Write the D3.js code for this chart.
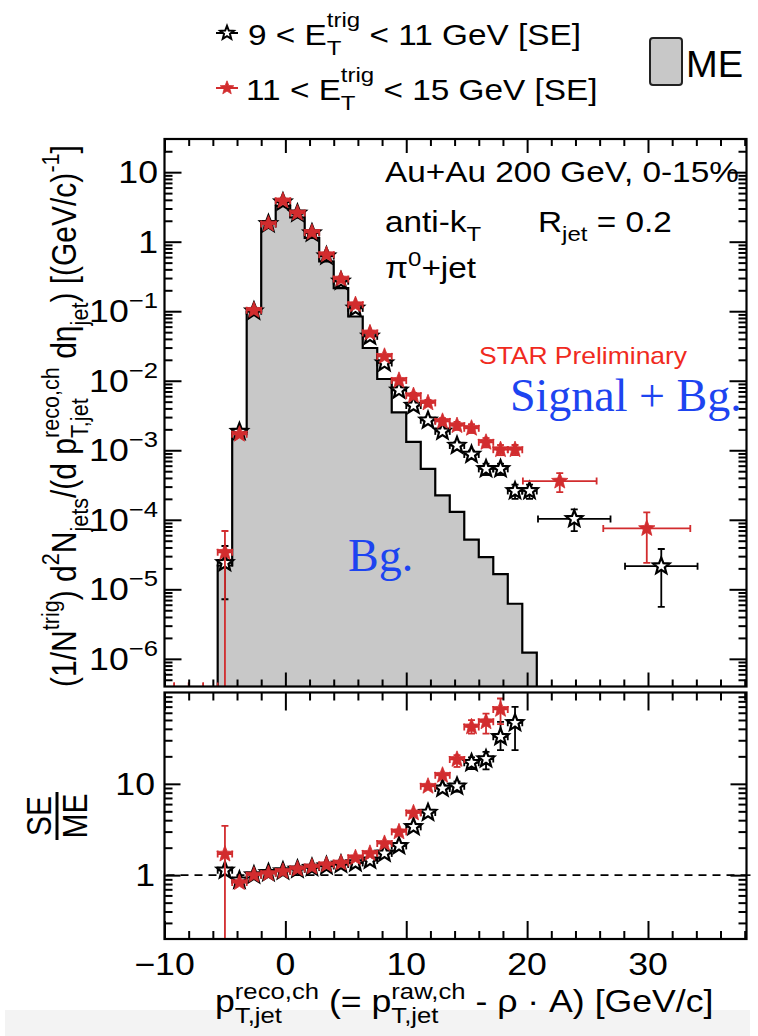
<!DOCTYPE html>
<html>
<head>
<meta charset="utf-8">
<script src="https://cdn.jsdelivr.net/npm/d3@7"></script>
<style>
  html, body { margin: 0; padding: 0; background: #fff; }
  svg { display: block; }
  text { white-space: pre; }
</style>
</head>
<body>
<svg id="chart" width="758" height="1036"></svg>
<script>
// ---------------- data ----------------
// mixed-event (ME) reference histogram: bin edges and contents
const meEdges = [-5.6, -4.4, -3.2, -2.0, -0.8, 0.4, 1.6, 2.8, 4.0, 5.2, 6.4, 7.6, 8.8,
                 10.0, 11.2, 12.4, 13.6, 14.8, 16.0, 17.2, 18.4, 19.6, 20.8];
const meValues = [2.2e-5, 1.83e-3, 0.099, 1.85, 3.28, 2.23, 1.13, 0.52, 0.215, 0.084, 0.0296,
                  0.0106, 0.0035, 1.32e-3, 5.4e-4, 2.25e-4, 1.30e-4, 5.2e-5, 2.9e-5, 1.65e-5,
                  6.2e-6, 1.23e-6];

// same-event spectrum, 9 < E_T^trig < 11 GeV
const seLowX    = [-5.0, -3.8, -2.6, -1.4, -0.2, 1.0, 2.2, 3.4, 4.6, 5.8, 7.0, 8.2, 9.4, 10.6,
                   11.8, 13.0, 14.2, 15.4, 16.6, 17.8, 19.0, 20.2, 23.9, 31.1];
const seLowXErr = [0.6, 0.6, 0.6, 0.6, 0.6, 0.6, 0.6, 0.6, 0.6, 0.6, 0.6, 0.6, 0.6, 0.6,
                   0.6, 0.6, 0.6, 0.6, 0.6, 0.6, 0.6, 0.6, 3.0, 3.0];
const seLowY    = [2.4e-5, 1.85e-3, 0.1, 1.8, 3.7, 2.55, 1.33, 0.62, 0.27, 0.11, 0.0435, 0.018,
                   7.3e-3, 4.4e-3, 2.7e-3, 1.87e-3, 1.17e-3, 8.7e-4, 5.4e-4, 5.4e-4, 2.6e-4,
                   2.6e-4, 1.03e-4, 2.15e-5];
const seLowErrLo = [1.68e-5, 0, 0, 0, 0, 0, 0, 0, 0, 0, 0, 0, 0, 4e-4, 3e-4, 2e-4, 1.5e-4, 1.2e-4,
                    1e-4, 1e-4, 6e-5, 6e-5, 3.45e-5, 1.59e-5];
const seLowErrHi = [1.8e-5, 0, 0, 0, 0, 0, 0, 0, 0, 0, 0, 0, 0, 4e-4, 3e-4, 2e-4, 1.5e-4, 1.2e-4,
                    1e-4, 1e-4, 6e-5, 6e-5, 3.8e-5, 1.65e-5];

// same-event spectrum, 11 < E_T^trig < 15 GeV
const seHighX    = [-5.0, -3.8, -2.6, -1.4, -0.2, 1.0, 2.2, 3.4, 4.6, 5.8, 7.0, 8.2, 9.4, 10.6,
                    11.8, 13.0, 14.2, 15.4, 16.6, 17.8, 19.0, 22.7, 29.9];
const seHighXErr = [0.6, 0.6, 0.6, 0.6, 0.6, 0.6, 0.6, 0.6, 0.6, 0.6, 0.6, 0.6, 0.6, 0.6,
                    0.6, 0.6, 0.6, 0.6, 0.6, 0.6, 0.6, 3.05, 3.6];
const seHighY    = [3.4e-5, 1.7e-3, 0.103, 1.79, 3.87, 2.58, 1.36, 0.65, 0.29, 0.124, 0.0487,
                    0.0224, 0.0101, 6.1e-3, 4.8e-3, 2.6e-3, 2.26e-3, 2.07e-3, 1.30e-3, 1.02e-3,
                    1.02e-3, 3.6e-4, 7.5e-5];
const seHighErrLo = [3.4e-5, 0, 0, 0, 0, 0, 0, 0, 0, 0, 0, 0, 0, 6e-4, 5e-4, 3e-4, 3e-4, 3e-4,
                     2e-4, 1.7e-4, 1.7e-4, 1.1e-4, 5.1e-5];
const seHighErrHi = [3.5e-5, 0, 0, 0, 0, 0, 0, 0, 0, 0, 0, 0, 0, 6e-4, 5e-4, 3e-4, 3e-4, 3e-4,
                     2e-4, 1.7e-4, 1.7e-4, 1.1e-4, 5.3e-5];

// empty bins below the spectrum (drawn on the lower frame edge)
const emptyBinX = [-9.8, -8.6, -7.4, -6.2];

// SE/ME ratios
const ratioLowX  = [-5.0, -3.8, -2.6, -1.4, -0.2, 1.0, 2.2, 3.4, 4.6, 5.8, 7.0, 8.2, 9.4, 10.6,
                    11.8, 13.0, 14.2, 15.4, 16.6, 17.8, 19.0];
const ratioLowY  = [1.13, 0.88, 1.0, 1.06, 1.105, 1.16, 1.21, 1.26, 1.31, 1.36, 1.45, 1.73, 2.09,
                    3.38, 4.85, 8.9, 9.4, 17, 18.7, 32.7, 46.5];
const ratioLowErrLo = [0, 0, 0, 0, 0, 0, 0, 0, 0, 0, 0, 0, 0, 0, 0, 0.8, 1.2, 2.5, 4.3, 9.3, 23.1];
const ratioLowErrHi = [0, 0, 0, 0, 0, 0, 0, 0, 0, 0, 0, 0, 0, 0, 0, 0.8, 1.2, 2.5, 3.7, 15.1, 23.2];

const ratioHighX = [-5.0, -3.8, -2.6, -1.4, -0.2, 1.0, 2.2, 3.4, 4.6, 5.8, 7.0, 8.2, 9.4, 10.6,
                    11.8, 13.0, 14.2, 15.4, 16.6, 17.8];
const ratioHighY = [1.70, 0.83, 1.0, 1.04, 1.1, 1.17, 1.23, 1.3, 1.36, 1.55, 1.73, 2.22, 2.98,
                    4.8, 9.4, 12.4, 18.5, 42, 47.8, 65.3];
const ratioHighErrLo = [1.69, 0, 0, 0, 0, 0, 0, 0, 0, 0, 0, 0, 0, 0, 0, 0, 3.2, 6.5, 12.3, 20.3];
const ratioHighErrHi = [1.76, 0, 0, 0, 0, 0, 0, 0, 0, 0, 0, 0, 0, 0, 0, 0, 2.1, 7.9, 10.9, 20.7];

// axes
const xDomain = [-10, 38.15];
const xMajorTicks = [-10, 0, 10, 20, 30];
const xTickLabels = ["\u221210", "0", "10", "20", "30"];
const yUpperDomain = [4e-7, 30];
const yUpperDecades = [1, 0, -1, -2, -3, -4, -5, -6];
const yLowerDomain = [0.2, 100];
const yLowerMajor = [1, 10];
const yLowerLabels = ["1", "10"];

// ---------------- styling ----------------
const SANS = "'Liberation Sans', Arial, Helvetica, sans-serif";
const SERIF = "'Liberation Serif', 'Times New Roman', Times, serif";
const SX = 1.15;                 // horizontal stretch of the sans-serif lettering
const RED = "#d22c2e";
const GREY = "#c8c8c8";
const BLUE = "#1d44f0";

const svg = d3.select("#chart");
svg.append("rect").attr("width", 758).attr("height", 1036).attr("fill", "#fff");
svg.append("rect").attr("x", 5).attr("y", 1010).attr("width", 745).attr("height", 26)
   .attr("fill", "#f3f3f3");

const up = { l: 164.5, r: 746.5, t: 139, b: 686.5 };
const lo = { l: 164.5, r: 746.5, t: 692.5, b: 939 };

const x  = d3.scaleLinear().domain(xDomain).range([up.l, up.r]);
const yU = d3.scaleLog().domain(yUpperDomain).range([up.b, up.t]);
const yL = d3.scaleLog().domain(yLowerDomain).range([lo.b, lo.t]);

// value -> pixel, sending zero / off-scale values just below the frame
const ypos = (s, v) => v > s.domain()[0] ? s(v) : s.range()[0] + 4;

const defs = svg.append("defs");
defs.append("clipPath").attr("id", "clipU").append("rect")
    .attr("x", up.l).attr("y", up.t).attr("width", up.r - up.l).attr("height", up.b - up.t);
defs.append("clipPath").attr("id", "clipL").append("rect")
    .attr("x", lo.l).attr("y", lo.t).attr("width", lo.r - lo.l).attr("height", lo.b - lo.t);
defs.append("clipPath").attr("id", "clipPage").append("rect")
    .attr("x", 0).attr("y", 0).attr("width", 758).attr("height", 1031);

// ---------- rich text with super/subscripts ----------
function rich(parent, parts, o) {
  const fs = o.size, ss = fs * (o.small || 0.72);
  const g = parent.append("g")
    .attr("fill", o.fill || "#000")
    .attr("font-family", o.family || SANS)
    .attr("font-weight", o.weight || "normal");
  const inner = g.append("g");
  let cx = 0;
  parts.forEach(p => {
    if (typeof p === "string") p = { t: p };
    if (p.t !== undefined) {
      const e = inner.append("text").attr("x", cx).attr("y", 0)
        .attr("font-size", fs).attr("xml:space", "preserve").text(p.t);
      cx += e.node().getComputedTextLength();
    } else {
      let w = 0;
      if (p.sup !== undefined) {
        const e = inner.append("text").attr("x", cx).attr("y", -fs * (o.raise || 0.45))
          .attr("font-size", ss).attr("xml:space", "preserve").text(p.sup);
        w = Math.max(w, e.node().getComputedTextLength());
      }
      if (p.sub !== undefined) {
        const e = inner.append("text").attr("x", cx).attr("y", fs * (o.drop || 0.32))
          .attr("font-size", ss).attr("xml:space", "preserve").text(p.sub);
        w = Math.max(w, e.node().getComputedTextLength());
      }
      cx += w;
    }
  });
  const shift = o.anchor === "middle" ? -cx / 2 : o.anchor === "end" ? -cx : 0;
  inner.attr("transform", `translate(${shift},0)`);
  const sx = o.sx === undefined ? SX : o.sx;
  g.attr("transform", `translate(${o.x},${o.y}) scale(${sx},1)` +
                      (o.rotate ? ` rotate(${o.rotate})` : ""));
  return g;
}

// ---------- star markers ----------
function starPath(R, r) {
  let p = "";
  for (let k = 0; k < 10; k++) {
    const a = -Math.PI / 2 + k * Math.PI / 5;
    const rad = k % 2 ? r : R;
    p += (k ? "L" : "M") + (rad * Math.cos(a)).toFixed(2) + "," + (rad * Math.sin(a)).toFixed(2);
  }
  return p + "Z";
}
const STAR = starPath(8.6, 3.7);
const STAR_SMALL = starPath(7.2, 3.1);

function drawSeries(g, xs, xe, ys, eLo, eHi, ys_, color, open) {
  const eb = g.append("g").attr("stroke", color).attr("stroke-width", 1.8).attr("fill", "none");
  xs.forEach((xv, i) => {
    const px = x(xv), py = ypos(ys_, ys[i]);
    const x0 = x(xv - xe[i]), x1 = x(xv + xe[i]);
    eb.append("line").attr("x1", x0).attr("x2", x1).attr("y1", py).attr("y2", py);
    eb.append("line").attr("x1", x0).attr("x2", x0).attr("y1", py - 3.5).attr("y2", py + 3.5);
    eb.append("line").attr("x1", x1).attr("x2", x1).attr("y1", py - 3.5).attr("y2", py + 3.5);
    if (eLo[i] > 0 || eHi[i] > 0) {
      const yLo = ypos(ys_, ys[i] - eLo[i]);
      const yHi = ypos(ys_, ys[i] + eHi[i]);
      eb.append("line").attr("x1", px).attr("x2", px).attr("y1", yLo).attr("y2", yHi);
      eb.append("line").attr("x1", px - 3.5).attr("x2", px + 3.5).attr("y1", yLo).attr("y2", yLo);
      eb.append("line").attr("x1", px - 3.5).attr("x2", px + 3.5).attr("y1", yHi).attr("y2", yHi);
    }
  });
  g.append("g").selectAll("path").data(xs).join("path")
    .attr("d", STAR)
    .attr("transform", (xv, i) => `translate(${x(xv)},${ypos(ys_, ys[i])})`)
    .attr("fill", open ? "#fff" : color)
    .attr("stroke", open ? "#000" : color)
    .attr("stroke-width", open ? 2.2 : 0.8)
    .attr("stroke-linejoin", "miter");
}

// ---------- ticks via d3 axes ----------
function logMinor(domain) {
  const out = [];
  for (let e = Math.floor(Math.log10(domain[0])) - 1; e <= Math.ceil(Math.log10(domain[1])); e++) {
    for (let m = 2; m <= 9; m++) {
      const v = m * Math.pow(10, e);
      if (v > domain[0] && v < domain[1]) out.push(v);
    }
  }
  return out;
}
const xMinorTicks = d3.range(-8, 39, 2).filter(v => xMajorTicks.indexOf(v) < 0 && v < xDomain[1]);

function tickGroup(axis, tx, ty) {
  const g = svg.append("g").attr("transform", `translate(${tx},${ty})`).call(axis);
  g.select(".domain").remove();
  g.selectAll("line").attr("stroke", "#000").attr("stroke-width", 2);
  g.selectAll("text").remove();
  return g;
}
function drawTicks(frame, ys, yMajors, yMinors, xMaj, xMin, yMaj, yMin) {
  tickGroup(d3.axisTop(x).tickValues(xMajorTicks).tickSize(-xMaj).tickFormat(""), 0, frame.t);
  tickGroup(d3.axisTop(x).tickValues(xMinorTicks).tickSize(-xMin).tickFormat(""), 0, frame.t);
  tickGroup(d3.axisBottom(x).tickValues(xMajorTicks).tickSize(-xMaj).tickFormat(""), 0, frame.b);
  tickGroup(d3.axisBottom(x).tickValues(xMinorTicks).tickSize(-xMin).tickFormat(""), 0, frame.b);
  tickGroup(d3.axisLeft(ys).tickValues(yMajors).tickSize(-yMaj).tickFormat(""), frame.l, 0);
  tickGroup(d3.axisLeft(ys).tickValues(yMinors).tickSize(-yMin).tickFormat(""), frame.l, 0);
  tickGroup(d3.axisRight(ys).tickValues(yMajors).tickSize(-yMaj).tickFormat(""), frame.r, 0);
  tickGroup(d3.axisRight(ys).tickValues(yMinors).tickSize(-yMin).tickFormat(""), frame.r, 0);
}

// ================= upper panel =================
const gU = svg.append("g").attr("clip-path", "url(#clipU)");

// ME histogram as a filled step outline
const stepPts = [[meEdges[0], null]]
  .concat(meEdges.map((e, i) => [e, meValues[Math.min(i, meValues.length - 1)]]))
  .concat([[meEdges[meEdges.length - 1], null]]);
const stepLine = d3.line()
  .x(d => x(d[0]))
  .y(d => d[1] === null ? up.b : yU(d[1]))
  .curve(d3.curveStepAfter);
gU.append("path").attr("d", stepLine(stepPts))
  .attr("fill", GREY).attr("stroke", "#000").attr("stroke-width", 2.2);

// empty bins on the lower edge
const gEmpty = gU.append("g").attr("stroke", RED).attr("stroke-width", 1.6);
emptyBinX.forEach(c => {
  [c - 0.6, c + 0.6].forEach(e => {
    gEmpty.append("line").attr("x1", x(e)).attr("x2", x(e)).attr("y1", up.b - 4).attr("y2", up.b);
  });
});

drawSeries(gU.append("g"), seLowX, seLowXErr, seLowY, seLowErrLo, seLowErrHi, yU, "#000", true);
drawSeries(gU.append("g"), seHighX, seHighXErr, seHighY, seHighErrLo, seHighErrHi, yU, RED, false);

const yUMajors = yUpperDecades.map(e => Math.pow(10, e));
drawTicks(up, yU, yUMajors, logMinor(yUpperDomain), 14, 7, 17, 8);
svg.append("rect").attr("x", up.l).attr("y", up.t).attr("width", up.r - up.l)
   .attr("height", up.b - up.t).attr("fill", "none").attr("stroke", "#000").attr("stroke-width", 2.2);

// upper y tick labels
yUpperDecades.forEach(e => {
  const parts = e === 1 ? ["10"] : e === 0 ? ["1"] : ["10", { sup: "\u2212" + (-e) }];
  rich(svg, parts, { x: 158, y: yU(Math.pow(10, e)) + 11, size: 31, anchor: "end", raise: 0.45 });
});

// annotations
rich(svg, ["Au+Au 200 GeV, 0-15%"], { x: 385, y: 182, size: 29 });
rich(svg, ["anti-k", { sub: "T" }], { x: 385, y: 232, size: 29 });
rich(svg, ["R", { sub: "jet" }, " = 0.2"], { x: 538, y: 232, size: 29 });
rich(svg, ["\u03c0", { sup: "0" }, "+jet"], { x: 385, y: 278, size: 29, raise: 0.42 });
rich(svg, ["STAR Preliminary"], { x: 479, y: 364, size: 23, fill: "#f02a1e" });
rich(svg, ["Signal + Bg."], { x: 510, y: 411, size: 46, family: SERIF, fill: BLUE, sx: 1 });
rich(svg, ["Bg."], { x: 348, y: 571, size: 46, family: SERIF, fill: BLUE, sx: 1 });

// upper y-axis title
rich(svg, ["(1/N", { sup: "trig" }, ") d", { sup: "2" }, "N", { sub: "jets" }, "/(d p",
           { sup: "reco,ch", sub: "T,jet" }, " d\u03b7", { sub: "jet" }, ") [(GeV/c)",
           { sup: "-1" }, "]"],
     { x: 76, y: 416, size: 30, anchor: "middle", rotate: -90, raise: 0.5, drop: 0.35 });

// ================= lower panel =================
const gL = svg.append("g").attr("clip-path", "url(#clipL)");
gL.append("line").attr("x1", lo.l + 2).attr("x2", lo.r + 4)
  .attr("y1", yL(1)).attr("y2", yL(1))
  .attr("stroke", "#000").attr("stroke-width", 1.6).attr("stroke-dasharray", "8,6");

const zeros = a => a.map(() => 0.6);
drawSeries(gL.append("g"), ratioLowX, zeros(ratioLowX), ratioLowY, ratioLowErrLo, ratioLowErrHi, yL, "#000", true);
drawSeries(gL.append("g"), ratioHighX, zeros(ratioHighX), ratioHighY, ratioHighErrLo, ratioHighErrHi, yL, RED, false);
// reference line continues just past the right edge
svg.append("line").attr("x1", lo.r).attr("x2", lo.r + 4).attr("y1", yL(1)).attr("y2", yL(1))
   .attr("stroke", "#000").attr("stroke-width", 1.6);

drawTicks(lo, yL, yLowerMajor, logMinor(yLowerDomain), 18, 8, 16, 8);
svg.append("rect").attr("x", lo.l).attr("y", lo.t).attr("width", lo.r - lo.l)
   .attr("height", lo.b - lo.t).attr("fill", "none").attr("stroke", "#000").attr("stroke-width", 2.2);

yLowerMajor.forEach((v, i) => {
  rich(svg, [yLowerLabels[i]], { x: 155, y: yL(v) + 11, size: 31, anchor: "end" });
});
xMajorTicks.forEach((v, i) => {
  rich(svg, [xTickLabels[i]], { x: x(v), y: 975, size: 31, anchor: "middle" });
});

// lower y-axis title: SE over ME
const frac = svg.append("g").attr("transform", `translate(57,816) scale(${SX},1) rotate(-90)`)
  .attr("font-family", SANS).attr("font-size", 30);
frac.append("text").attr("x", 0).attr("y", -5).attr("text-anchor", "middle").text("SE");
frac.append("text").attr("x", 0).attr("y", 26.5).attr("text-anchor", "middle").text("ME");
frac.append("line").attr("x1", -24).attr("x2", 24).attr("y1", 0).attr("y2", 0)
    .attr("stroke", "#000").attr("stroke-width", 2.6);

// x-axis title (cut at the page's lower margin)
const xTitle = svg.append("g").attr("clip-path", "url(#clipPage)");
rich(xTitle, ["p", { sup: "reco,ch", sub: "T,jet" }, " (= p", { sup: "raw,ch", sub: "T,jet" },
              " - \u03c1 \u00b7 A) [GeV/c]"],
     { x: 215, y: 1012, size: 31, raise: 0.42, drop: 0.36 });

// ================= legend =================
const leg = svg.append("g");
leg.append("line").attr("x1", 216).attr("x2", 238).attr("y1", 33).attr("y2", 33)
   .attr("stroke", "#000").attr("stroke-width", 2);
leg.append("path").attr("d", STAR_SMALL).attr("transform", "translate(227,33)")
   .attr("fill", "#fff").attr("stroke", "#000").attr("stroke-width", 2);
rich(leg, ["9 < E", { sup: "trig", sub: "T" }, " < 11 GeV [SE]"],
     { x: 248, y: 45, size: 29, raise: 0.62, drop: 0.33 });

leg.append("line").attr("x1", 216).attr("x2", 238).attr("y1", 88).attr("y2", 88)
   .attr("stroke", RED).attr("stroke-width", 2);
leg.append("path").attr("d", STAR_SMALL).attr("transform", "translate(227,88)")
   .attr("fill", RED).attr("stroke", RED).attr("stroke-width", 0.8);
rich(leg, ["11 < E", { sup: "trig", sub: "T" }, " < 15 GeV [SE]"],
     { x: 246, y: 100, size: 29, raise: 0.62, drop: 0.33 });

leg.append("rect").attr("x", 650).attr("y", 38).attr("width", 32).attr("height", 47)
   .attr("rx", 3).attr("fill", GREY).attr("stroke", "#222").attr("stroke-width", 2);
rich(leg, ["ME"], { x: 686, y: 77, size: 37, sx: 1.03 });
</script>
</body>
</html>
